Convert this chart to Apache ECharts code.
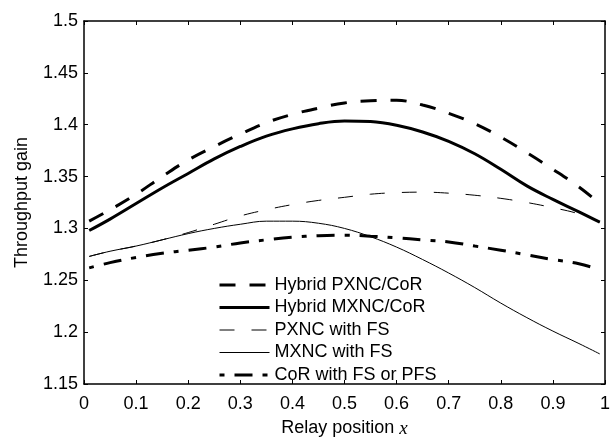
<!DOCTYPE html>
<html><head><meta charset="utf-8">
<script src="https://cdn.jsdelivr.net/npm/echarts@6/dist/echarts.min.js"></script>
<style>html,body{margin:0;padding:0;background:#fff}#c{width:616px;height:443px}</style>
</head><body><div id="c"></div>
<script>
const relayPositions = [0.01,0.05,0.1,0.15,0.2,0.25,0.3,0.35,0.4,0.45,0.5,0.55,0.6,0.65,0.7,0.75,0.8,0.85,0.9,0.95,0.99];
const hybridPXNC = [1.307,1.318,1.333,1.350,1.366,1.379,1.391,1.402,1.410,1.416,1.421,1.423,1.4235,1.419,1.411,1.401,1.388,1.373,1.357,1.340,1.324];
const hybridMXNC = [1.298,1.309,1.324,1.339,1.353,1.367,1.379,1.389,1.396,1.401,1.4035,1.403,1.3995,1.393,1.384,1.372,1.357,1.341,1.328,1.316,1.306];
const pxncFS = [1.273,1.278,1.283,1.289,1.296,1.304,1.312,1.318,1.323,1.327,1.330,1.333,1.3345,1.335,1.334,1.332,1.329,1.325,1.320,1.314,1.306];
const mxncFS = [1.273,1.278,1.283,1.289,1.295,1.300,1.304,1.307,1.307,1.305,1.300,1.292,1.282,1.270,1.257,1.243,1.228,1.214,1.201,1.189,1.179];
const corFS = [1.262,1.267,1.272,1.276,1.279,1.282,1.286,1.289,1.2915,1.293,1.2935,1.2925,1.291,1.289,1.287,1.283,1.279,1.2745,1.270,1.266,1.260];
const seriesNames = ['Hybrid PXNC/CoR','Hybrid MXNC/CoR','PXNC with FS','MXNC with FS','CoR with FS or PFS'];

const pair = arr => relayPositions.map((x, i) => [x, arr[i]]);
const FONT = 'Liberation Sans';
const FS = 18;
const styles = [
  {width: 3, type: [16, 14]},
  {width: 3, type: 'solid'},
  {width: 1, type: [15, 17]},
  {width: 1, type: 'solid'},
  {width: 3, type: [18, 10, 5, 10], dashOffset: 28}
];
const values = [hybridPXNC, hybridMXNC, pxncFS, mxncFS, corFS];

const axisCommon = {
  axisLine: {show: true, onZero: false, lineStyle: {color: '#000', width: 1.5}},
  axisTick: {show: true, inside: true, length: 4, lineStyle: {color: '#000', width: 1}},
  splitLine: {show: false}
};

const chart = echarts.init(document.getElementById('c'), null, {renderer: 'canvas'});
chart.setOption({
  animation: false,
  backgroundColor: '#fff',
  textStyle: {fontFamily: FONT},
  grid: {left: 84, right: 11, top: 21, bottom: 51},
  legend: {
    orient: 'vertical', left: 218, top: 276, padding: 0,
    itemWidth: 50, itemHeight: 14, itemGap: 4.5,
    textStyle: {fontFamily: FONT, fontSize: FS, color: '#000', lineHeight: 18},
    data: seriesNames.map((n, i) => ({
      name: n,
      lineStyle: Object.assign({color: '#000'}, styles[i]),
      itemStyle: {color: 'rgba(0,0,0,0)', borderWidth: 0, opacity: 0}
    }))
  },
  xAxis: [
    Object.assign({
      type: 'value', min: 0, max: 1, interval: 0.1, position: 'bottom',
      name: 'Relay position {i|x}', nameLocation: 'middle', nameGap: 35,
      nameTextStyle: {fontFamily: FONT, fontSize: FS, color: '#000',
        rich: {i: {fontFamily: 'Liberation Serif', fontStyle: 'italic', fontSize: 19, color: '#000'}}},
      axisLabel: {fontFamily: FONT, fontSize: FS, color: '#000', margin: 11}
    }, axisCommon),
    Object.assign({
      type: 'value', min: 0, max: 1, interval: 0.1, position: 'top',
      axisLabel: {show: false}
    }, axisCommon)
  ],
  yAxis: [
    Object.assign({
      type: 'value', min: 1.15, max: 1.5, interval: 0.05, position: 'left',
      name: 'Throughput gain', nameLocation: 'middle', nameGap: 53,
      nameTextStyle: {fontFamily: FONT, fontSize: FS, color: '#000'},
      axisLabel: {fontFamily: FONT, fontSize: FS, color: '#000', margin: 6}
    }, axisCommon),
    Object.assign({
      type: 'value', min: 1.15, max: 1.5, interval: 0.05, position: 'right',
      axisLabel: {show: false}
    }, axisCommon)
  ],
  series: seriesNames.map((n, i) => ({
    name: n, type: 'line', xAxisIndex: 0, yAxisIndex: 0,
    data: pair(values[i]), smooth: 0.4, symbol: 'none', showSymbol: false,
    lineStyle: Object.assign({color: '#000'}, styles[i]),
    itemStyle: {color: '#000'},
    emphasis: {disabled: true}
  }))
});
</script></body></html>
